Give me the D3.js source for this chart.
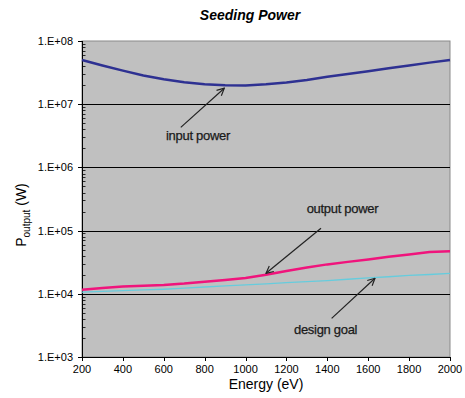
<!DOCTYPE html>
<html>
<head>
<meta charset="utf-8">
<script src="https://cdn.jsdelivr.net/npm/d3@7"></script>
<style>
  body { margin: 0; background: #fff; }
  text { font-family: "Liberation Sans", Arial, sans-serif; }
</style>
</head>
<body>
<svg id="chart" width="465" height="398"></svg>
<script>
// ---- data ----
const energy = [200,300,400,500,600,700,800,900,1000,1100,1200,1300,1400,1500,1600,1700,1800,1900,2000];
const inputPower  = [5.0e7,4.1e7,3.4e7,2.85e7,2.48e7,2.22e7,2.06e7,1.99e7,1.98e7,2.06e7,2.2e7,2.42e7,2.72e7,3.0e7,3.32e7,3.7e7,4.1e7,4.55e7,5.0e7];
const outputPower = [1.16e4,1.24e4,1.3e4,1.34e4,1.38e4,1.45e4,1.55e4,1.65e4,1.78e4,2.0e4,2.3e4,2.6e4,2.92e4,3.2e4,3.5e4,3.85e4,4.2e4,4.6e4,4.7e4];
const designGoal  = [1.06e4,1.09e4,1.12e4,1.15e4,1.18e4,1.23e4,1.28e4,1.33e4,1.38e4,1.44e4,1.5e4,1.56e4,1.62e4,1.7e4,1.78e4,1.86e4,1.95e4,2.02e4,2.1e4];
const xTicks = [200,400,600,800,1000,1200,1400,1600,1800,2000];
const yTicks = [1e3,1e4,1e5,1e6,1e7,1e8];
const yTickLabels = ["1.E+03","1.E+04","1.E+05","1.E+06","1.E+07","1.E+08"];
const annotations = [
  {label:"input power",  tx:611,  ty:2.73e6, x1:683,  y1:4.3e6,  x2:896,  y2:1.79e7},
  {label:"output power", tx:1299, ty:1.9e5,  x1:1369, y1:1.09e5, x2:1100, y2:2.11e4},
  {label:"design goal",  tx:1237, ty:2.31e3, x1:1421, y1:4.09e3, x2:1633, y2:1.76e4}
];

// ---- layout ----
const svg = d3.select("#chart");
const L = 82, R = 450, T = 41, B = 357;
const x = d3.scaleLinear().domain([200,2000]).range([L,R]);
const y = d3.scaleLog().domain([1e3,1e8]).range([B,T]);

// plot area
svg.append("rect").attr("x",L).attr("y",T).attr("width",R-L).attr("height",B-T)
  .attr("fill","#c0c0c0").attr("stroke","#8a8a8a").attr("stroke-width",1);

// gridlines
svg.append("g").selectAll("line").data(yTicks.slice(1,5)).join("line")
  .attr("x1",L).attr("x2",R).attr("y1",d=>Math.round(y(d))+0.5).attr("y2",d=>Math.round(y(d))+0.5)
  .attr("stroke","#000").attr("stroke-width",1);

// y axis (major ticks outward, minor ticks)
const yAxis = svg.append("g").attr("transform",`translate(${L},0)`);
yAxis.append("line").attr("x1",0.5).attr("x2",0.5).attr("y1",T).attr("y2",B).attr("stroke","#000");
const minor = [];
for (let e=3;e<8;e++) for (let m=2;m<10;m++) minor.push(m*Math.pow(10,e));
yAxis.selectAll("line.minor").data(minor).join("line").attr("class","minor")
  .attr("x1",0.5).attr("x2",3.5).attr("y1",d=>Math.round(y(d))+0.5).attr("y2",d=>Math.round(y(d))+0.5)
  .attr("stroke","#000").attr("stroke-width",0.8);
yAxis.selectAll("line.major").data(yTicks).join("line").attr("class","major")
  .attr("x1",-4).attr("x2",0.5).attr("y1",d=>Math.round(y(d))+0.5).attr("y2",d=>Math.round(y(d))+0.5)
  .attr("stroke","#000");
yAxis.selectAll("text").data(yTicks).join("text")
  .attr("x",-9).attr("y",d=>y(d)+4).attr("text-anchor","end")
  .attr("font-size",11).attr("fill","#000").text((d,i)=>yTickLabels[i]);

// x axis
const xAxis = svg.append("g");
xAxis.append("line").attr("x1",L).attr("x2",R).attr("y1",B+0.5).attr("y2",B+0.5).attr("stroke","#000");
xAxis.selectAll("line.t").data(xTicks).join("line").attr("class","t")
  .attr("x1",d=>Math.round(x(d))+0.5).attr("x2",d=>Math.round(x(d))+0.5).attr("y1",B).attr("y2",B+4)
  .attr("stroke","#000");
xAxis.selectAll("text").data(xTicks).join("text")
  .attr("x",d=>x(d)).attr("y",B+16).attr("text-anchor","middle")
  .attr("font-size",11).attr("fill","#000").text(d=>d);

// lines
const line = vals => d3.line().x((d,i)=>x(energy[i])).y(d=>y(d))(vals);
svg.append("path").attr("d",line(designGoal)).attr("fill","none").attr("stroke","#66ccdd").attr("stroke-width",1.3);
svg.append("path").attr("d",line(outputPower)).attr("fill","none").attr("stroke","#f0147c").attr("stroke-width",2.5);
svg.append("path").attr("d",line(inputPower)).attr("fill","none").attr("stroke","#2e3192").attr("stroke-width",2.5);

// arrow marker
svg.append("defs").append("marker").attr("id","arr")
  .attr("viewBox","0 0 10 10").attr("refX",9).attr("refY",5)
  .attr("markerWidth",9).attr("markerHeight",9).attr("orient","auto").attr("markerUnits","userSpaceOnUse")
  .append("path").attr("d","M1,1 L9,5 L1,9").attr("fill","none").attr("stroke","#222").attr("stroke-width",1.3);

// annotations
const ann = svg.append("g");
ann.selectAll("line").data(annotations).join("line")
  .attr("x1",d=>x(d.x1)).attr("y1",d=>y(d.y1)).attr("x2",d=>x(d.x2)).attr("y2",d=>y(d.y2))
  .attr("stroke","#222").attr("stroke-width",1.2).attr("marker-end","url(#arr)");
ann.selectAll("text").data(annotations).join("text")
  .attr("x",d=>x(d.tx)).attr("y",d=>y(d.ty)).attr("font-size",13).attr("fill","#1a1a1a")
  .attr("stroke","#1a1a1a").attr("stroke-width",0.25)
  .attr("letter-spacing","-0.3").text(d=>d.label);

// titles
svg.append("text").attr("x",250).attr("y",20).attr("text-anchor","middle")
  .attr("font-size",14).attr("font-weight","bold").attr("font-style","italic").text("Seeding Power");
svg.append("text").attr("x",266).attr("y",389).attr("text-anchor","middle")
  .attr("font-size",14).text("Energy (eV)");
const yt = svg.append("text").attr("transform","translate(26,215) rotate(-90)")
  .attr("text-anchor","middle").attr("font-size",14);
yt.append("tspan").text("P");
yt.append("tspan").attr("font-size",10).attr("dy",4).text("output");
yt.append("tspan").attr("dy",-4).text(" (W)");
</script>
</body>
</html>
